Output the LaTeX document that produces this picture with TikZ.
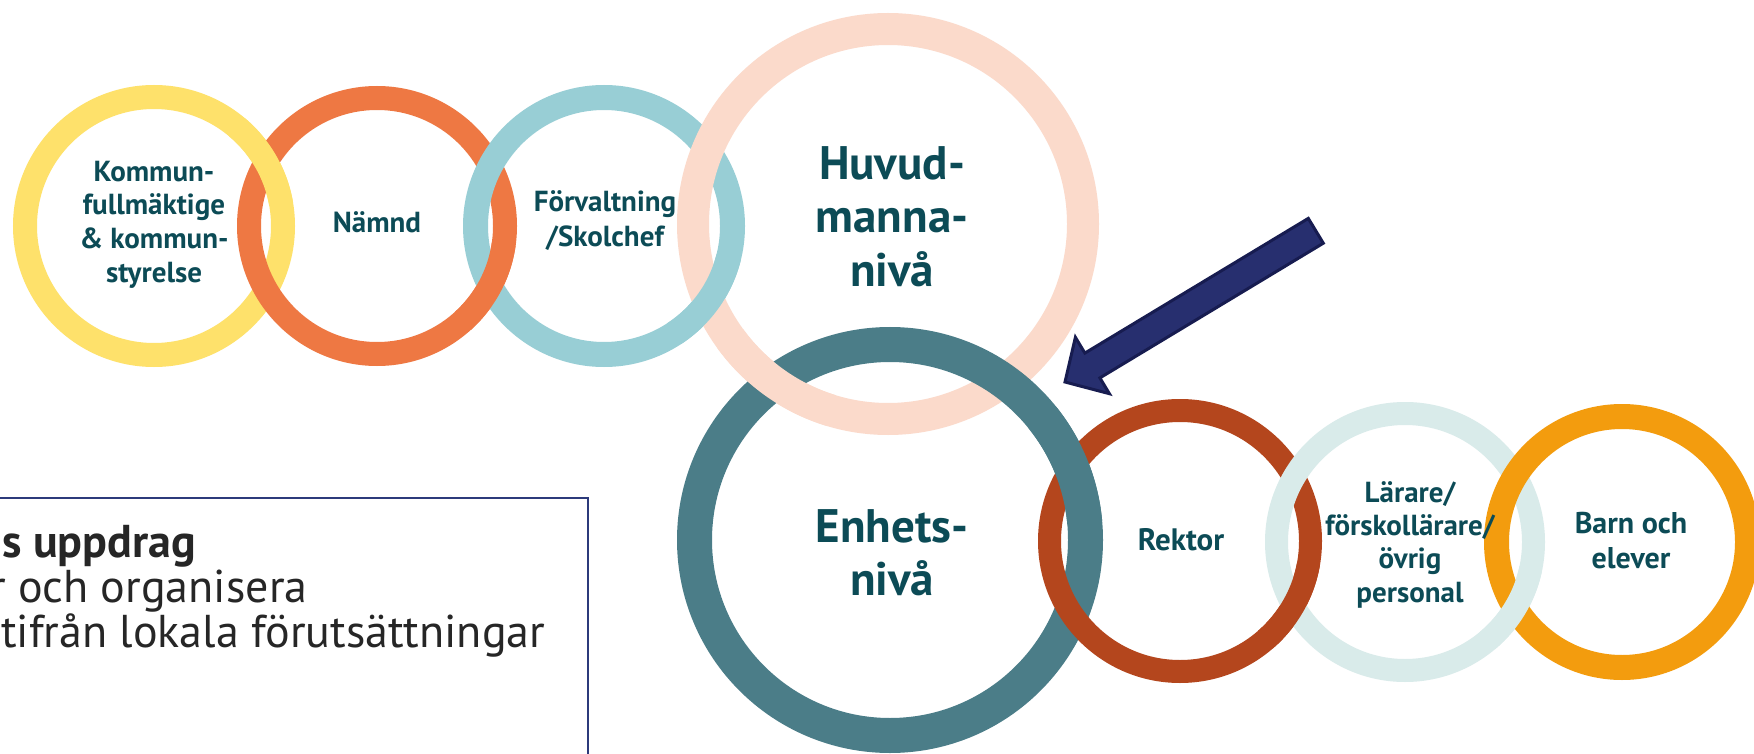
\documentclass[tikz,border=0pt]{standalone}
\usepackage{fontspec}
\setmainfont{PT Sans}
\definecolor{cY}{HTML}{FEE16B}
\definecolor{cO}{HTML}{EE7843}
\definecolor{cT}{HTML}{98CED5}
\definecolor{cP}{HTML}{FBDACB}
\definecolor{cD}{HTML}{4B7D88}
\definecolor{cR}{HTML}{B4461D}
\definecolor{cL}{HTML}{D9EBEA}
\definecolor{cB}{HTML}{F39C0E}
\definecolor{txt}{HTML}{0C4B56}
\definecolor{arrfill}{HTML}{272F6F}
\definecolor{arredge}{HTML}{171C50}
\definecolor{boxedge}{HTML}{2C3A7B}
\definecolor{boxtxt}{HTML}{262626}
\begin{document}
\begin{tikzpicture}[x=1pt,y=-1pt,
  ring/.style={circle,inner sep=0pt,outer sep=0pt},
  lbl/.style={inner sep=0pt,anchor=base,text=txt,font=\bfseries\fontsize{29}{34}\selectfont},
  biglbl/.style={inner sep=0pt,anchor=base,text=txt,font=\bfseries\fontsize{47}{53}\selectfont},
  boxline/.style={inner sep=0pt,anchor=base west,text=boxtxt,font=\fontsize{46}{45}\selectfont}]
\useasboundingbox (0,0) rectangle (1754,754);
\clip (0,0) rectangle (1754,754);
\fill[white] (0,0) rectangle (1754,754);
% rings
\node[ring,draw=cY,line width=24pt,minimum size=258pt] (Y) at (154,226) {};
\node[ring,draw=cO,line width=24pt,minimum size=256pt] (O) at (377,226) {};
\node[ring,draw=cT,line width=25pt,minimum size=257pt] (T) at (604,226) {};
\node[ring,draw=cP,line width=32pt,minimum size=390pt] (P) at (888,224) {};
\node[ring,draw=cD,line width=35pt,minimum size=391pt] (D) at (890,540) {};
\node[ring,draw=cR,line width=23pt,minimum size=261pt] (R) at (1180,541) {};
\node[ring,draw=cL,line width=23pt,minimum size=257pt] (L) at (1405,542) {};
\node[ring,draw=cB,line width=25pt,minimum size=251pt] (B) at (1622,542) {};
% interlocking overlaps
\draw[cY,line width=24pt] plot[domain=-50:-10,samples=30,smooth] ({154+129*cos(\x)},{226+129*sin(\x)});
\draw[cO,line width=24pt] plot[domain=8:48,samples=30,smooth] ({377+128*cos(\x)},{226+128*sin(\x)});
\draw[cT,line width=25pt] plot[domain=14:57,samples=30,smooth] ({604+128.5*cos(\x)},{226+128.5*sin(\x)});
\draw[cP,line width=32pt] plot[domain=107:144,samples=30,smooth] ({888+195*cos(\x)},{224+195*sin(\x)});
\draw[cD,line width=35pt] plot[domain=-39:-5,samples=30,smooth] ({890+195.5*cos(\x)},{540+195.5*sin(\x)});
\draw[cR,line width=23pt] plot[domain=10:49,samples=30,smooth] ({1180+130.5*cos(\x)},{541+130.5*sin(\x)});
\draw[cL,line width=23pt] plot[domain=12:50,samples=30,smooth] ({1405+128.5*cos(\x)},{542+128.5*sin(\x)});
% labels
\node[lbl] (y1) at (154,182) {Kommun-};
\node[lbl] (y2) at (154,215) {fullmäktige};
\node[lbl] (y3) at (154,249) {\& kommun-};
\node[lbl] (y4) at (154,282) {styrelse};
\node[lbl] (o1) at (377,233) {Nämnd};
\node[lbl] (t1) at (605,212) {Förvaltning};
\node[lbl] (t2) at (605,247) {/Skolchef};
\node[biglbl] (p1) at (892,180) {Huvud-};
\node[biglbl] (p2) at (892,233) {manna-};
\node[biglbl] (p3) at (892,287) {nivå};
\node[biglbl] (d1) at (892,542) {Enhets-};
\node[biglbl] (d2) at (892,595) {nivå};
\node[lbl,font=\bfseries\fontsize{31}{34}\selectfont] (r1) at (1181,550) {Rektor};
\node[lbl] (l1) at (1410,502) {Lärare/};
\node[lbl] (l2) at (1410,535) {förskollärare/};
\node[lbl] (l3) at (1410,568) {övrig};
\node[lbl] (l4) at (1410,602) {personal};
\node[lbl,font=\bfseries\fontsize{30}{34}\selectfont] (b1) at (1631,533) {Barn och};
\node[lbl,font=\bfseries\fontsize{30}{34}\selectfont] (b2) at (1631,568) {elever};
% arrow
\coordinate (aT1) at (1308.3,218.4);
\coordinate (aT2) at (1323.3,243.2);
\coordinate (aL1) at (1099.9,377.9);
\coordinate (aL2) at (1109.4,393.7);
\coordinate (aTip) at (1065,382);
\coordinate (aU2) at (1075.4,337.3);
\coordinate (aU1) at (1084.9,353.1);
\draw[fill=arrfill,draw=arredge,line width=3pt,line join=miter] (aT1) -- (aT2) -- (aL1) -- (aL2) -- (aTip) -- (aU2) -- (aU1) -- cycle;
% text box
\draw[boxedge,line width=2.5pt] (-20,498) -- (588,498) -- (588,800);
\node[boxline,font=\bfseries\fontsize{46}{45}\selectfont] (x1) at (2,557) {s uppdrag};
\node[boxline] (x2) at (-10,602) {r och organisera};
\node[boxline] (x3) at (1,647) {tifrån lokala förutsättningar};
\end{tikzpicture}
\end{document}
